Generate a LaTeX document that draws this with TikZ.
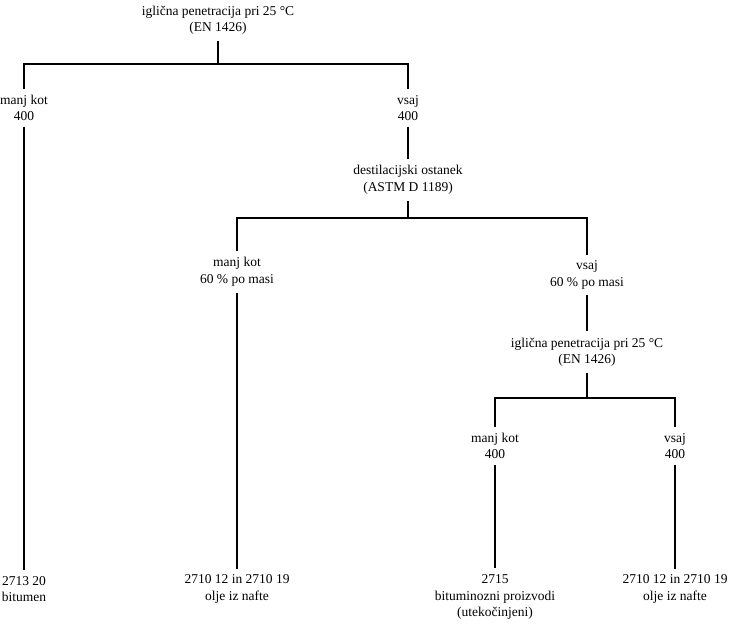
\documentclass[tikz,border=0pt]{standalone}
\usepackage{fontspec}
\setmainfont{Liberation Serif}
\begin{document}
\begin{tikzpicture}[x=1pt,y=-1pt,
  lbl/.style={align=center,inner xsep=0pt,inner ysep=6pt,font=\fontsize{13.5}{16.5}\selectfont},
  conn/.style={line width=1.7pt}]
\useasboundingbox (0,0) rectangle (731,634);
% level 1
\node[lbl] (q1) at (218,20) {iglična penetracija pri 25 °C\\(EN 1426)};
\coordinate (b1) at (218,64);
\node[lbl] (a1) at (24,108) {manj kot\\400};
\node[lbl] (a2) at (408,108) {vsaj\\400};
\node[lbl] (r1) at (24,589) {2713 20\\bitumen};
% level 2
\node[lbl] (q2) at (408,180) {destilacijski ostanek\\(ASTM D 1189)};
\coordinate (b2) at (408,218);
\node[lbl] (c1) at (237,272) {manj kot\\60 \% po masi};
\node[lbl] (c2) at (587,275) {vsaj\\60 \% po masi};
\node[lbl] (r2) at (237,589) {2710 12 in 2710 19\\olje iz nafte};
% level 3
\node[lbl] (q3) at (587,352) {iglična penetracija pri 25 °C\\(EN 1426)};
\coordinate (b3) at (587,398);
\node[lbl] (d1) at (495,446) {manj kot\\400};
\node[lbl] (d2) at (675,446) {vsaj\\400};
\node[lbl] (r3) at (495,597) {2715\\bituminozni proizvodi\\(utekočinjeni)};
\node[lbl] (r4) at (675,589) {2710 12 in 2710 19\\olje iz nafte};
% connectors
\draw[conn] (q1.south) -- (b1);
\draw[conn] (a1.north) |- (b1) -| (a2.north);
\draw[conn] (a1.south) -- (r1.north);
\draw[conn] (a2.south) -- (q2.north);
\draw[conn] (q2.south) -- (b2);
\draw[conn] (c1.north) |- (b2) -| (c2.north);
\draw[conn] (c1.south) -- (r2.north);
\draw[conn] (c2.south) -- (q3.north);
\draw[conn] (q3.south) -- (b3);
\draw[conn] (d1.north) |- (b3) -| (d2.north);
\draw[conn] (d1.south) -- (r3.north);
\draw[conn] (d2.south) -- (r4.north);
\end{tikzpicture}
\end{document}
